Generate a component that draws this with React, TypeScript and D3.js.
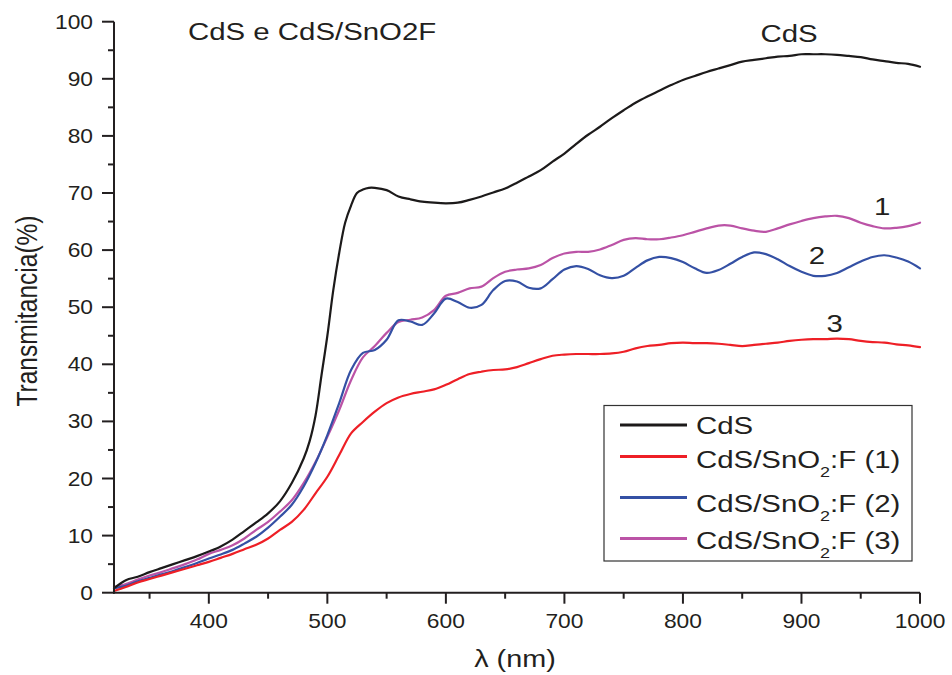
import React from "react";
import * as d3 from "d3";

// ---- data ----
const nm = [320,330,340,350,360,370,380,390,400,410,420,430,440,450,460,470,480,490,500,510,520,530,540,550,560,570,580,590,600,610,620,630,640,650,660,670,680,690,700,710,720,730,740,750,760,770,780,790,800,810,820,830,840,850,860,870,880,890,900,910,920,930,940,950,960,970,980,990,1000];

const sample1 = [0.3,1.0,1.8,2.4,3.0,3.6,4.2,4.8,5.4,6.1,6.8,7.6,8.4,9.5,11.0,12.4,14.5,17.4,20.3,24.1,27.9,29.9,31.7,33.2,34.2,34.8,35.2,35.6,36.4,37.4,38.3,38.7,39.0,39.1,39.5,40.2,40.9,41.5,41.7,41.8,41.8,41.8,41.9,42.2,42.8,43.2,43.4,43.7,43.8,43.7,43.7,43.6,43.4,43.2,43.4,43.6,43.8,44.1,44.3,44.4,44.4,44.5,44.4,44.1,43.9,43.8,43.5,43.3,43.0];

const sample2 = [0.8,1.2,2.0,2.6,3.2,3.8,4.5,5.2,6.0,6.7,7.5,8.6,9.8,11.4,13.3,15.4,18.6,22.7,27.6,33.2,39.0,42.0,42.5,44.3,47.7,47.5,46.9,48.9,51.5,50.9,49.9,50.4,53.0,54.6,54.5,53.4,53.3,54.9,56.6,57.2,56.7,55.6,55.1,55.5,56.9,58.2,58.8,58.6,57.9,56.8,56.0,56.5,57.6,58.8,59.6,59.3,58.4,57.2,56.2,55.5,55.5,56.0,57.0,58.0,58.8,59.1,58.7,58.0,56.8];

const sample3 = [1.0,1.5,2.3,3.0,3.6,4.3,5.0,5.8,6.8,7.5,8.3,9.5,11.0,12.4,14.2,16.2,19.2,22.9,27.3,32.0,37.2,41.2,43.2,45.5,47.4,47.8,48.2,49.5,52.0,52.5,53.3,53.6,55.1,56.2,56.6,56.8,57.4,58.6,59.4,59.7,59.7,60.1,60.9,61.8,62.1,61.9,61.9,62.2,62.6,63.2,63.8,64.3,64.3,63.8,63.4,63.2,63.8,64.5,65.1,65.6,65.9,66.0,65.6,64.8,64.2,63.8,63.9,64.2,64.8];

const cdsNm = [320,330,340,350,360,370,380,390,400,410,420,430,440,450,460,470,480,485,490,495,500,505,510,515,520,525,530,535,540,550,560,570,580,590,600,610,620,630,640,650,660,670,680,690,700,710,720,730,740,750,760,770,780,790,800,810,820,830,840,850,860,870,880,890,900,910,920,930,940,950,960,970,980,990,1000];
const cdsT = [0.8,2.2,2.8,3.6,4.3,5.0,5.7,6.4,7.2,8.1,9.3,10.8,12.3,13.9,16.0,19.2,23.5,26.5,31.0,38.0,45.0,53.0,59.5,64.8,67.8,70.0,70.6,70.9,70.9,70.5,69.4,68.9,68.5,68.3,68.2,68.3,68.8,69.4,70.1,70.8,71.8,72.9,74.0,75.5,76.9,78.6,80.2,81.6,83.1,84.5,85.8,86.9,87.9,88.9,89.8,90.5,91.2,91.8,92.4,93.0,93.3,93.6,93.9,94.0,94.3,94.3,94.3,94.2,94.0,93.8,93.4,93.1,92.8,92.6,92.1];

const xTicks = [400, 500, 600, 700, 800, 900, 1000];
const xMinor = [350, 450, 550, 650, 750, 850, 950];
const yTicks = [0, 10, 20, 30, 40, 50, 60, 70, 80, 90, 100];
const yMinor = [5, 15, 25, 35, 45, 55, 65, 75, 85, 95];

const legendLabels = ["CdS", "(1)", "(2)", "(3)"];
const curveLabels = [
  { text: "1", nm: 968, t: 66.2 },
  { text: "2", nm: 913, t: 57.5 },
  { text: "3", nm: 928, t: 45.7 },
];

const INK = "#231f20";
const COLORS = { cds: "#1c1a1a", s1: "#ee1f26", s2: "#3450a4", s3: "#bb53a6" };
const FONT = "'Liberation Sans', Arial, Helvetica, sans-serif";

function Txt({ x, y, size, anchor = "start", sx = 1.2, children }: any) {
  return (
    <text
      transform={`translate(${x},${y}) scale(${sx},1)`}
      fontSize={size}
      fontFamily={FONT}
      textAnchor={anchor}
      fill={INK}
    >
      {children}
    </text>
  );
}

export default function App() {
  const x = d3.scaleLinear().domain([320, 1000]).range([114, 920]);
  const y = d3.scaleLinear().domain([0, 100]).range([592.7, 21.7]);

  const line = d3
    .line<[number, number]>()
    .x((d) => x(d[0]))
    .y((d) => y(d[1]))
    .curve(d3.curveCatmullRom.alpha(0.5));

  const cds = cdsNm.map((n, i) => [n, cdsT[i]] as [number, number]);
  const s1 = nm.map((n, i) => [n, sample1[i]] as [number, number]);
  const s2 = nm.map((n, i) => [n, sample2[i]] as [number, number]);
  const s3 = nm.map((n, i) => [n, sample3[i]] as [number, number]);

  const series = [
    { d: s3, c: COLORS.s3 },
    { d: s2, c: COLORS.s2 },
    { d: s1, c: COLORS.s1 },
    { d: cds, c: COLORS.cds },
  ];

  const legColors = [COLORS.cds, COLORS.s1, COLORS.s2, COLORS.s3];
  const legLineY = [425, 456.5, 497.5, 538.5];
  const legTextY = [434, 467.5, 511.5, 549];

  const x0 = x(320);
  const y0 = y(0);

  return (
    <svg
      width={952}
      height={675}
      style={{ position: "absolute", left: 0, top: 0, background: "#fff" }}
    >
      <rect x={0} y={0} width={952} height={675} fill="#fff" />

      {/* curves */}
      <g fill="none" strokeLinejoin="round" strokeLinecap="round">
        {series.map((s, i) => (
          <path key={i} d={line(s.d) || ""} stroke={s.c} strokeWidth={2.2} />
        ))}
      </g>

      {/* axes */}
      <g stroke={INK} strokeWidth={2}>
        <line x1={x0} x2={x0} y1={y(100)} y2={y0 + 1} />
        <line x1={x0 - 1} x2={x(1000)} y1={y0} y2={y0} />
        {yTicks.map((t) => (
          <line key={"yt" + t} x1={x0 - 12} x2={x0} y1={y(t)} y2={y(t)} />
        ))}
        {yMinor.map((t) => (
          <line key={"ym" + t} x1={x0 - 6} x2={x0} y1={y(t)} y2={y(t)} />
        ))}
        {xTicks.map((t) => (
          <line key={"xt" + t} x1={x(t)} x2={x(t)} y1={y0} y2={y0 + 11} />
        ))}
        {xMinor.map((t) => (
          <line key={"xm" + t} x1={x(t)} x2={x(t)} y1={y0} y2={y0 + 6} />
        ))}
      </g>

      {yTicks.map((t) => (
        <Txt key={"yl" + t} x={93} y={y(t) + 7} size={20} anchor="end" sx={1.14}>
          {t}
        </Txt>
      ))}
      {xTicks.map((t) => (
        <Txt key={"xl" + t} x={x(t)} y={628} size={20} anchor="middle" sx={1.14}>
          {t}
        </Txt>
      ))}

      {/* axis titles */}
      <Txt x={515} y={667} size={24} anchor="middle" sx={1.2}>
        λ (nm)
      </Txt>
      <text
        transform="translate(37,311) rotate(-90) scale(1,1.2)"
        fontSize={24.5}
        fontFamily={FONT}
        textAnchor="middle"
        fill={INK}
      >
        Transmitancia(%)
      </text>

      {/* titles */}
      <Txt x={188} y={40} size={24.5}>
        CdS e CdS/SnO2F
      </Txt>
      <Txt x={789} y={41.5} size={24.5} anchor="middle">
        CdS
      </Txt>
      {curveLabels.map((l) => (
        <Txt key={l.text} x={x(l.nm)} y={y(l.t)} size={24.5} anchor="middle">
          {l.text}
        </Txt>
      ))}

      {/* legend */}
      <rect x={604} y={405.5} width={308} height={155.5} fill="#fff" stroke="#333" strokeWidth={1.2} />
      {legendLabels.map((lab, i) => (
        <g key={"lg" + i}>
          <line x1={620} x2={687} y1={legLineY[i]} y2={legLineY[i]} stroke={legColors[i]} strokeWidth={3} />
          {i === 0 ? (
            <Txt x={696} y={legTextY[i]} size={24.5}>
              {lab}
            </Txt>
          ) : (
            <Txt x={696} y={legTextY[i]} size={24.5}>
              CdS/SnO
              <tspan fontSize={15} dy={9}>
                2
              </tspan>
              <tspan dy={-9}>{":F " + lab}</tspan>
            </Txt>
          )}
        </g>
      ))}
    </svg>
  );
}
